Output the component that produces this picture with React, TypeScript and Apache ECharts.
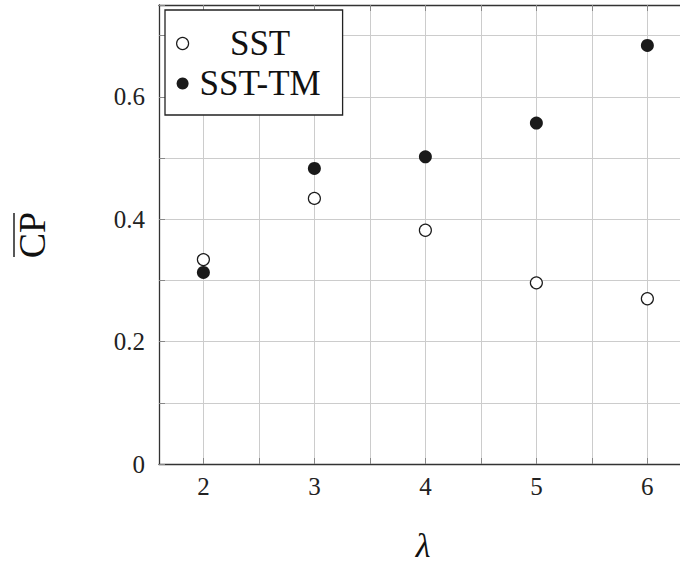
import React, { useEffect, useRef } from 'react';
import * as echarts from 'echarts';

const lambdaValues = [2, 3, 4, 5, 6];
const sstValues = [0.334, 0.434, 0.382, 0.296, 0.27];
const sstTmValues = [0.313, 0.483, 0.502, 0.557, 0.684];
const xTickValues = [2, 2.5, 3, 3.5, 4, 4.5, 5, 5.5, 6];
const xLabelValues = [2, 3, 4, 5, 6];
const seriesNames = ['SST', 'SST-TM'];

const FONT = 'Liberation Serif';
const INK = '#1a1a1a';

export default function App() {
  const ref = useRef<HTMLDivElement>(null);
  useEffect(() => {
    if (!ref.current) return;
    const chart = echarts.init(ref.current, null, { renderer: 'svg' });
    // visible part of the axis (the original plot box continues past the right edge)
    const xAxisBase = {
      type: 'value',
      min: 1.6,
      max: 6.294,
      axisLine: { show: true, lineStyle: { color: '#333', width: 1.3 } },
      axisTick: {
        show: true,
        inside: true,
        length: 6,
        customValues: xTickValues,
        lineStyle: { color: '#888', width: 1 },
      },
    };
    chart.setOption({
      animation: false,
      textStyle: { fontFamily: FONT },
      grid: { left: 159, top: 5, right: 0, bottom: 100, containLabel: false },
      xAxis: [
        {
          ...xAxisBase,
          position: 'bottom',
          axisLabel: {
            show: true,
            customValues: xLabelValues,
            margin: 10,
            fontSize: 25,
            color: '#222',
            fontFamily: FONT,
          },
          splitLine: { show: true, lineStyle: { color: '#cccccc', width: 1 } },
        },
        {
          ...xAxisBase,
          position: 'top',
          axisLabel: { show: false },
          splitLine: { show: false },
        },
      ],
      yAxis: {
        type: 'value',
        min: 0,
        max: 0.75,
        interval: 0.1,
        axisLine: { show: true, lineStyle: { color: '#333', width: 1.3 } },
        axisTick: { show: true, inside: true, length: 6, lineStyle: { color: '#888', width: 1 } },
        axisLabel: {
          margin: 14,
          fontSize: 25,
          color: '#222',
          fontFamily: FONT,
          formatter: (v: number) => {
            if (Math.abs(v * 5 - Math.round(v * 5)) > 1e-6) return '';
            if (Math.abs(v) < 1e-9) return '0';
            return v.toFixed(1);
          },
        },
        splitLine: { show: true, lineStyle: { color: '#cccccc', width: 1 } },
      },
      legend: {
        left: 165,
        top: 10,
        orient: 'vertical',
        backgroundColor: '#fff',
        borderColor: '#222',
        borderWidth: 1.3,
        borderRadius: 0,
        padding: [16, 16, 14, 11],
        itemGap: 5,
        itemWidth: 12,
        itemHeight: 12,
        data: [
          { name: seriesNames[0], icon: 'circle', itemStyle: { color: '#fff', borderColor: INK, borderWidth: 1.2 } },
          { name: seriesNames[1], icon: 'circle', itemStyle: { color: INK, borderWidth: 0 } },
        ],
        formatter: (name: string) => `{c|${name}}`,
        textStyle: {
          fontFamily: FONT,
          rich: {
            c: { width: 133, align: 'center', fontSize: 35, lineHeight: 35, color: '#111', fontFamily: FONT },
          },
        },
      },
      graphic: [
        {
          type: 'group',
          x: 32,
          y: 235,
          rotation: Math.PI / 2,
          children: [
            {
              type: 'text',
              x: 0,
              y: 0,
              style: {
                text: 'CP',
                font: `38px "${FONT}"`,
                fill: '#111',
                align: 'center',
                verticalAlign: 'middle',
              },
            },
            {
              type: 'line',
              shape: { x1: -22, y1: -18, x2: 22, y2: -18 },
              style: { stroke: '#111', lineWidth: 1.4 },
            },
          ],
        },
        {
          type: 'text',
          x: 423,
          y: 545,
          style: {
            text: 'λ',
            font: `italic 34px "${FONT}"`,
            fill: '#111',
            align: 'center',
            verticalAlign: 'middle',
          },
        },
      ],
      series: [
        {
          name: seriesNames[0],
          type: 'scatter',
          symbol: 'circle',
          symbolSize: 12,
          itemStyle: { color: '#fff', borderColor: INK, borderWidth: 1.2, opacity: 1 },
          data: lambdaValues.map((x, i) => [x, sstValues[i]]),
          z: 3,
        },
        {
          name: seriesNames[1],
          type: 'scatter',
          symbol: 'circle',
          symbolSize: 13,
          itemStyle: { color: INK, opacity: 1 },
          data: lambdaValues.map((x, i) => [x, sstTmValues[i]]),
          z: 3,
        },
      ],
    });
    return () => chart.dispose();
  }, []);
  return (
    <div
      ref={ref}
      style={{ position: 'fixed', left: 0, top: 0, width: 680, height: 564, background: '#fff' }}
    />
  );
}
